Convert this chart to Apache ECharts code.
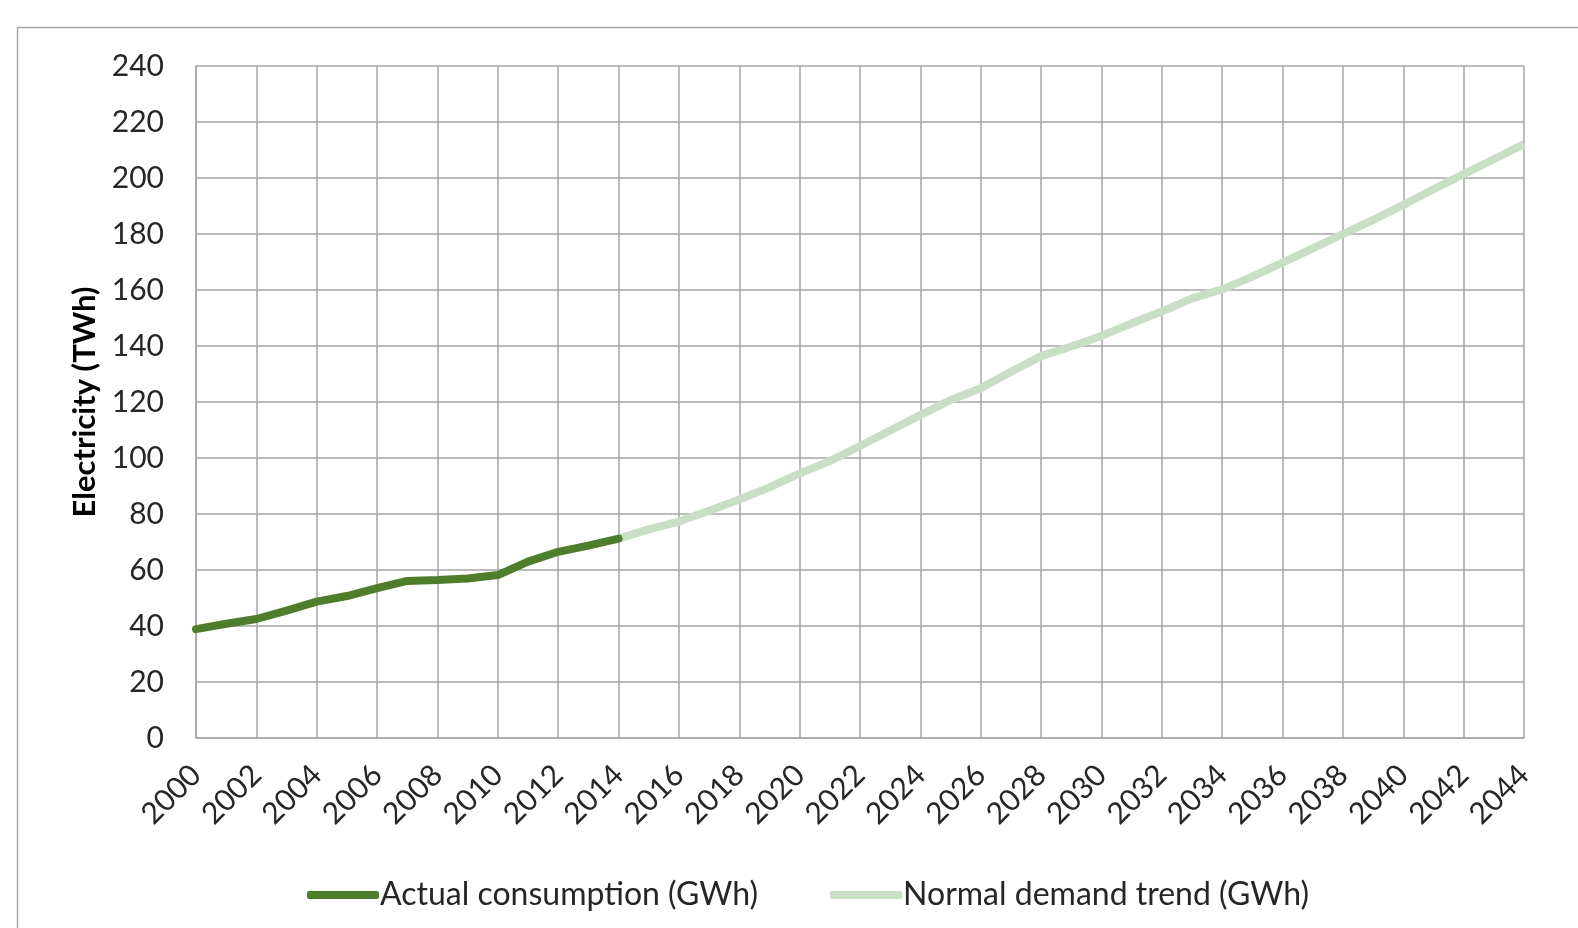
<!DOCTYPE html>
<html>
<head>
<meta charset="utf-8">
<script src="https://cdn.jsdelivr.net/npm/echarts@6/dist/echarts.min.js"></script>
<style>
html,body{margin:0;padding:0;background:#fff;}
#chart{width:1578px;height:928px;}
</style>
</head>
<body>
<div id="chart"></div>
<script>
const actualYears = [2000,2001,2002,2003,2004,2005,2006,2007,2008,2009,2010,2011,2012,2013,2014];
const actualValues = [38.9,40.8,42.5,45.5,48.7,50.7,53.5,56.1,56.4,57.0,58.2,63.0,66.5,68.7,71.2];
const trendYears = [2014,2015,2016,2017,2018,2019,2020,2021,2022,2023,2024,2025,2026,2027,2028,2029,2030,2031,2032,2033,2034,2035,2036,2037,2038,2039,2040,2041,2042,2043,2044];
const trendValues = [71.2,74.5,77.3,81.2,85.2,89.5,94.5,98.9,104.3,109.8,115.3,120.7,124.9,130.8,136.4,139.8,143.6,148.1,152.3,157.0,160.2,164.8,169.8,174.9,180.0,185.0,190.4,196.0,201.4,206.7,212.1];
const seriesNames = ['Actual consumption (GWh)','Normal demand trend (GWh)'];
const yAxisTitle = 'Electricity (TWh)';

const font = 'Lato, "Open Sans", sans-serif';
const chart = echarts.init(document.getElementById('chart'));
chart.setOption({
  backgroundColor: '#fff',
  animation: false,
  graphic: [{
    type: 'rect', shape: {x: 17.5, y: 27.5, width: 1700, height: 1000},
    style: {fill: 'none', stroke: '#a6a6a6', lineWidth: 1.5}, silent: true, z: -1
  }],
  grid: {left: 196, right: 54, top: 66, bottom: 190},
  legend: {
    left: 302, top: 874,
    itemWidth: 72, itemHeight: 8, itemGap: 72,
    icon: 'roundRect',
    textStyle: {fontFamily: font, fontSize: 32, color: '#262626', padding: [0,0,0,-4]},
    data: seriesNames
  },
  xAxis: {
    type: 'value', min: 2000, max: 2044, interval: 2,
    axisLine: {show: true, lineStyle: {color: '#a6a6a6', width: 1.5}},
    axisTick: {show: false},
    splitLine: {show: true, lineStyle: {color: '#a6a6a6', width: 1.5}},
    axisLabel: {rotate: 45, margin: 32, fontFamily: font, fontSize: 30, color: '#262626', formatter: v => String(v)}
  },
  yAxis: {
    type: 'value', min: 0, max: 240, interval: 20,
    name: yAxisTitle, nameLocation: 'middle', nameGap: 96,
    nameTextStyle: {fontFamily: font, fontSize: 31, fontWeight: 'bold', color: '#000'},
    axisLine: {show: true, lineStyle: {color: '#a6a6a6', width: 1.5}},
    axisTick: {show: false},
    splitLine: {show: true, lineStyle: {color: '#a6a6a6', width: 1.5}},
    axisLabel: {margin: 32, fontFamily: font, fontSize: 30, color: '#262626'}
  },
  series: [
    {
      name: seriesNames[0], type: 'line', showSymbol: false, symbol: 'none',
      data: actualYears.map((y, i) => [y, actualValues[i]]),
      lineStyle: {color: '#4e7d2b', width: 8, cap: 'round', join: 'round'},
      itemStyle: {color: '#4e7d2b'}, z: 3
    },
    {
      name: seriesNames[1], type: 'line', showSymbol: false, symbol: 'none',
      data: trendYears.map((y, i) => [y, trendValues[i]]),
      lineStyle: {color: '#c9dfc5', width: 8, join: 'round'},
      itemStyle: {color: '#c9dfc5'}, z: 2
    }
  ]
});
</script>
</body>
</html>
